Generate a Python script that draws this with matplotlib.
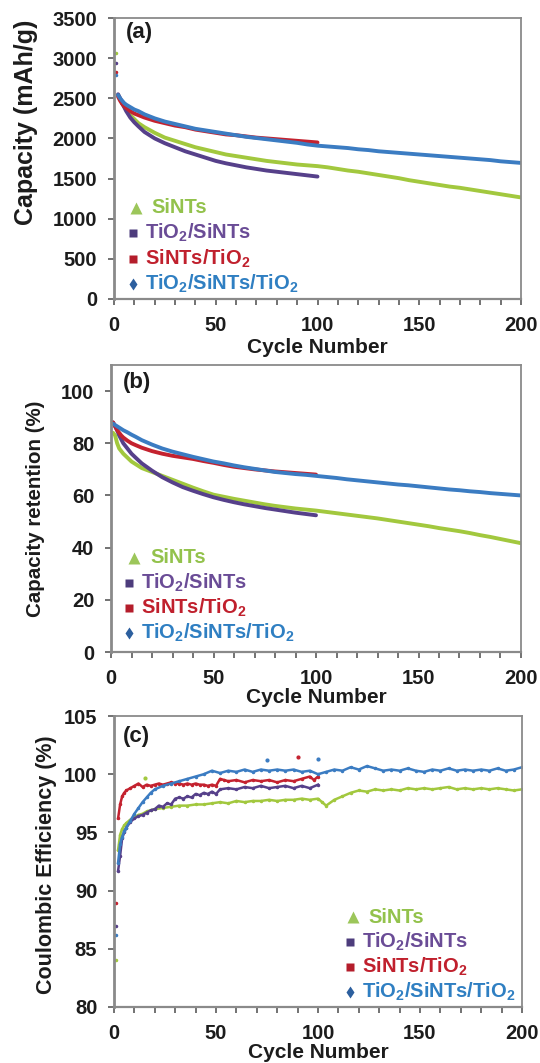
import matplotlib
matplotlib.use("Agg")
import matplotlib.pyplot as plt
from matplotlib.ticker import MultipleLocator

plt.rcParams["font.family"] = ["Liberation Sans", "DejaVu Sans"]
plt.rcParams["font.weight"] = "bold"
plt.rcParams["mathtext.fontset"] = "custom"
plt.rcParams["mathtext.rm"] = "Liberation Sans:bold"
plt.rcParams["mathtext.bf"] = "Liberation Sans:bold"
plt.rcParams["mathtext.default"] = "rm"

# ---------------- series names and colours ----------------
series_names = ["SiNTs", r"TiO$_2$/SiNTs", r"SiNTs/TiO$_2$", r"TiO$_2$/SiNTs/TiO$_2$"]
line_colors = ["#a2c83e", "#56408a", "#c4222f", "#3b7cc2"]
text_colors = ["#93c24c", "#6a4c96", "#c0202d", "#2f7fc2"]
key_markers = ["^", "s", "s", "d"]
key_marker_colors = ["#9cc65a", "#4d3c7c", "#b41d2b", "#2c5f9e"]

# ---------------- (a) discharge capacity, mAh/g ----------------
cap_first_cycle = [3060, 2940, 2830, 2790]
cap_cycles_100 = [2, 3, 4, 5, 6, 8, 10, 12, 15, 20, 25, 30, 35, 40, 45, 50,
                  55, 60, 65, 70, 75, 80, 85, 90, 95, 100]
cap_cycles_200 = cap_cycles_100 + [105, 110, 115, 120, 125, 130, 135, 140, 145, 150,
                                   155, 160, 165, 170, 175, 180, 185, 190, 195, 200]
cap_sints = [2540, 2490, 2440, 2400, 2360, 2290, 2240, 2190, 2140, 2070, 2010, 1970,
             1930, 1890, 1860, 1830, 1800, 1780, 1760, 1740, 1720, 1705, 1690, 1675,
             1665, 1655,
             1640, 1620, 1600, 1585, 1565, 1545, 1525, 1505, 1480, 1460, 1440, 1420,
             1400, 1385, 1365, 1345, 1325, 1305, 1285, 1265]
cap_tio2_sints = [2550, 2500, 2440, 2390, 2340, 2260, 2200, 2150, 2080, 2000, 1940,
                  1890, 1840, 1800, 1760, 1720, 1690, 1665, 1640, 1620, 1600, 1585,
                  1570, 1555, 1540, 1525]
cap_sints_tio2 = [2520, 2470, 2430, 2400, 2380, 2340, 2310, 2290, 2260, 2220, 2190,
                  2160, 2140, 2110, 2090, 2070, 2050, 2040, 2025, 2010, 2000, 1990,
                  1980, 1970, 1960, 1950]
cap_tio2_sints_tio2 = [2540, 2500, 2470, 2440, 2420, 2390, 2360, 2340, 2300, 2250, 2210,
                       2180, 2150, 2120, 2100, 2080, 2060, 2040, 2020, 2005, 1990, 1975,
                       1960, 1945, 1925, 1910,
                       1900, 1890, 1880, 1865, 1855, 1840, 1830, 1820, 1810, 1800, 1790,
                       1780, 1770, 1760, 1750, 1740, 1730, 1715, 1705, 1695]

# ---------------- (b) capacity retention, % ----------------
ret_cycles_100 = [1, 2, 3, 4, 5, 6, 8, 10, 12, 15, 20, 25, 30, 35, 40, 45, 50,
                  55, 60, 65, 70, 75, 80, 85, 90, 95, 100]
ret_cycles_200 = ret_cycles_100 + [105, 110, 115, 120, 125, 130, 135, 140, 145, 150,
                                   155, 160, 165, 170, 175, 180, 185, 190, 195, 200]
ret_sints = [84, 83, 80, 78, 77, 76, 74.5, 73, 72, 70.5, 69, 67.5, 66, 64.5, 63, 61.6,
             60.3, 59.5, 58.7, 58, 57.3, 56.6, 56, 55.5, 55, 54.6, 54.2,
             53.7, 53.2, 52.7, 52.2, 51.7, 51.2, 50.6, 50, 49.4, 48.8, 48.2, 47.5,
             46.9, 46.3, 45.6, 44.8, 44.1, 43.3, 42.5, 41.7]
ret_tio2_sints = [88, 86.5, 85, 83, 81.5, 80, 78, 76, 74.5, 72.3, 69.5, 67, 65, 63.2,
                  61.8, 60.5, 59.3, 58.3, 57.4, 56.6, 55.9, 55.2, 54.6, 54, 53.4, 52.9,
                  52.4]
ret_sints_tio2 = [88, 86.5, 85, 84, 83, 82.2, 81, 80, 79.3, 78.3, 77, 76, 75.2, 74.6,
                  74, 73.2, 72.5, 71.7, 71, 70.5, 70, 69.6, 69.2, 68.9, 68.6, 68.3, 68.0]
ret_tio2_sints_tio2 = [87.5, 87, 86.5, 86, 85.5, 85, 84.2, 83.3, 82.5, 81.2, 79.5, 78,
                       76.8, 75.8, 74.8, 73.9, 73, 72.3, 71.5, 70.8, 70.2, 69.6, 69,
                       68.6, 68.2, 67.9, 67.5,
                       67.1, 66.7, 66.2, 65.8, 65.4, 65, 64.6, 64.2, 63.9, 63.5, 63.1,
                       62.7, 62.3, 62, 61.6, 61.3, 60.9, 60.6, 60.3, 60]

# ---------------- (c) coulombic efficiency, % ----------------
ce_cycles_sints = [1, 2, 3, 4, 5, 6, 8, 10, 12, 14, 16, 18, 20, 24, 28, 32, 36, 40,
                   44, 48, 52, 56, 60, 64, 68, 72, 76, 80, 84, 88, 92, 96, 100, 102,
                   104, 108, 112, 116, 120, 124, 128, 132, 136, 140, 144, 148, 152,
                   156, 160, 164, 168, 172, 176, 180, 184, 188, 192, 196, 200]
ce_sints = [84.0, 93.5, 94.8, 95.3, 95.6, 95.8, 96.1, 96.3, 96.5, 96.6, 96.8, 96.9,
            97.0, 97.1, 97.2, 97.3, 97.3, 97.4, 97.4, 97.5, 97.6, 97.5, 97.7, 97.6,
            97.7, 97.7, 97.8, 97.7, 97.8, 97.8, 97.9, 97.8, 97.9, 97.6, 97.3, 97.8,
            98.1, 98.4, 98.6, 98.5, 98.7, 98.6, 98.7, 98.6, 98.8, 98.7, 98.8, 98.7,
            98.8, 98.9, 98.7, 98.8, 98.7, 98.8, 98.7, 98.8, 98.7, 98.6, 98.7]
ce_cycles_tio2_sints = [1, 2, 3, 4, 5, 6, 8, 10, 12, 14, 16, 18, 20, 22, 24, 26, 28,
                        30, 32, 34, 36, 38, 40, 42, 44, 46, 48, 50, 52, 56, 60, 64,
                        68, 72, 76, 80, 84, 88, 92, 96, 100]
ce_tio2_sints = [87.0, 91.7, 93.0, 94.5, 95.0, 95.4, 95.9, 96.2, 96.4, 96.5, 96.7,
                 96.9, 97.0, 97.3, 97.2, 97.5, 97.4, 97.9, 98.0, 97.9, 98.1, 98.0,
                 98.3, 98.2, 98.4, 98.3, 98.5, 98.3, 98.7, 98.8, 98.7, 98.9, 98.8,
                 99.0, 98.8, 98.9, 99.0, 98.8, 99.0, 98.8, 99.1]
ce_cycles_sints_tio2 = [1, 2, 3, 4, 5, 6, 8, 10, 12, 14, 16, 18, 20, 22, 24, 26, 28,
                        30, 32, 34, 36, 38, 40, 42, 44, 46, 48, 50, 52, 54, 56, 60,
                        64, 68, 72, 76, 80, 84, 88, 92, 96, 98, 100]
ce_sints_tio2 = [88.9, 96.2, 97.4, 98.1, 98.4, 98.6, 98.8, 99.0, 99.2, 98.9, 99.1,
                 99.0, 99.1, 99.2, 99.1, 99.2, 99.3, 99.2, 99.2, 99.1, 99.2, 99.1,
                 99.2, 99.1, 99.1, 99.0, 99.1, 99.0, 99.6, 99.5, 99.4, 99.5, 99.3,
                 99.5, 99.4, 99.5, 99.3, 99.5, 99.4, 99.6, 99.8, 99.5, 99.8]
ce_cycles_tio2_sints_tio2 = [1, 2, 3, 4, 5, 6, 8, 10, 12, 14, 16, 18, 20, 24, 28, 32,
                             36, 40, 44, 48, 52, 56, 60, 64, 68, 72, 76, 80, 84, 88,
                             92, 96, 100, 104, 108, 112, 116, 120, 124, 128, 132, 136,
                             140, 144, 148, 152, 156, 160, 164, 168, 172, 176, 180,
                             184, 188, 192, 196, 200]
ce_tio2_sints_tio2 = [86.2, 92.4, 94.0, 94.6, 95.1, 95.4, 96.0, 96.6, 97.1, 97.6,
                      98.0, 98.4, 98.7, 99.0, 99.2, 99.4, 99.6, 99.8, 100.0, 100.3,
                      100.1, 100.3, 100.2, 100.4, 100.2, 100.4, 100.3, 100.4, 100.3,
                      100.4, 100.2, 100.3, 100.0, 100.2, 100.4, 100.3, 100.6, 100.4,
                      100.7, 100.5, 100.3, 100.4, 100.3, 100.5, 100.3, 100.2, 100.4,
                      100.3, 100.5, 100.3, 100.4, 100.3, 100.4, 100.3, 100.5, 100.3,
                      100.4, 100.6]
# isolated high points
ce_stray_cycles = [15, 75, 90, 100]
ce_stray_values = [99.7, 101.2, 101.45, 101.3]
ce_stray_series = [0, 3, 2, 3]

# ---------------- figure ----------------
fig = plt.figure(figsize=(5.4, 10.63), dpi=100)
W, H = 540.0, 1063.0


def axes_px(left, right, top, bottom):
    return fig.add_axes([left / W, 1 - bottom / H, (right - left) / W, (bottom - top) / H])


ax_a = axes_px(114, 521, 18, 299)
ax_b = axes_px(111, 521, 365, 652)
ax_c = axes_px(114, 522, 716, 1007)

TICK_FS = 14.5
SPINE = "#8a8a8a"


def style_axes(ax, ylim, ystep):
    ax.set_xlim(0, 200)
    ax.set_ylim(*ylim)
    ax.xaxis.set_major_locator(MultipleLocator(50))
    ax.xaxis.set_minor_locator(MultipleLocator(10))
    ax.yaxis.set_major_locator(MultipleLocator(ystep))
    for s in ax.spines.values():
        s.set_color(SPINE)
        s.set_linewidth(1.3)
    ax.spines["left"].set_linewidth(2.0)
    ax.spines["bottom"].set_linewidth(1.6)
    ax.tick_params(which="both", direction="out", color="#5a5a5a", width=1.2,
                   length=4, labelsize=TICK_FS, labelcolor="#1c1c1c")
    ax.tick_params(axis="x", which="both", pad=8)
    ax.tick_params(axis="y", pad=8)
    ax.tick_params(top=False, right=False)


def key(ax, mx, tx, ys, sints_shift):
    for i, y in enumerate(ys):
        size = {"^": 8, "s": 6, "d": 6}[key_markers[i]]
        ax.plot([mx + (sints_shift[0] if i == 0 else 0)], [y], key_markers[i],
                color=key_marker_colors[i], ms=size, mec="none",
                transform=ax.transAxes, clip_on=False)
        ax.text(tx + (sints_shift[1] if i == 0 else 0), y, series_names[i],
                color=text_colors[i], fontsize=14.5, fontweight="bold",
                transform=ax.transAxes, va="center", ha="left")


# ---- (a)
a_x = [cap_cycles_200, cap_cycles_100, cap_cycles_100, cap_cycles_200]
a_y = [cap_sints, cap_tio2_sints, cap_sints_tio2, cap_tio2_sints_tio2]
for i in range(4):
    ax_a.plot(a_x[i], a_y[i], color=line_colors[i], lw=2.8, solid_capstyle="round")
    ax_a.plot([1], [cap_first_cycle[i]], ".", color=line_colors[i], ms=3)
style_axes(ax_a, (0, 3500), 500)
ax_a.set_ylabel("Capacity (mAh/g)", fontsize=18, fontweight="bold", color="#1c1c1c")
ax_a.yaxis.set_label_coords(-0.216, 0.63)
ax_a.yaxis.label.set_va("center")
ax_a.text(0.03, 0.947, "(a)", transform=ax_a.transAxes, fontsize=16,
          fontweight="bold", va="center", color="#1c1c1c")
key(ax_a, 0.047, 0.076, [0.324, 0.235, 0.142, 0.053], (0.007, 0.017))

# ---- (b)
b_x = [ret_cycles_200, ret_cycles_100, ret_cycles_100, ret_cycles_200]
b_y = [ret_sints, ret_tio2_sints, ret_sints_tio2, ret_tio2_sints_tio2]
for i in range(4):
    ax_b.plot(b_x[i], b_y[i], color=line_colors[i], lw=2.8, solid_capstyle="round")
style_axes(ax_b, (0, 110), 20)
ax_b.set_ylabel("Capacity retention (%)", fontsize=14.8, fontweight="bold",
                color="#1c1c1c")
ax_b.yaxis.set_label_coords(-0.183, 0.50)
ax_b.yaxis.label.set_va("center")
ax_b.text(0.028, 0.94, "(b)", transform=ax_b.transAxes, fontsize=16,
          fontweight="bold", va="center", color="#1c1c1c")
key(ax_b, 0.044, 0.073, [0.328, 0.240, 0.153, 0.066], (0.013, 0.022))

# ---- (c)
c_x = [ce_cycles_sints, ce_cycles_tio2_sints, ce_cycles_sints_tio2, ce_cycles_tio2_sints_tio2]
c_y = [ce_sints, ce_tio2_sints, ce_sints_tio2, ce_tio2_sints_tio2]
for i in range(4):
    ax_c.plot(c_x[i][1:], c_y[i][1:], color=line_colors[i], lw=1.8, marker=".", ms=3)
    ax_c.plot(c_x[i][:1], c_y[i][:1], ".", color=line_colors[i], ms=3)
for cx, cy, si in zip(ce_stray_cycles, ce_stray_values, ce_stray_series):
    ax_c.plot([cx], [cy], ".", color=line_colors[si], ms=4)
style_axes(ax_c, (80, 105), 5)
ax_c.set_ylabel("Coulombic Efficiency (%)", fontsize=15.5, fontweight="bold",
                color="#1c1c1c")
ax_c.yaxis.set_label_coords(-0.165, 0.49)
ax_c.yaxis.label.set_va("center")
ax_c.text(0.021, 0.928, "(c)", transform=ax_c.transAxes, fontsize=16,
          fontweight="bold", va="center", color="#1c1c1c")
key(ax_c, 0.578, 0.608, [0.309, 0.223, 0.137, 0.052], (0.008, 0.015))

for ax, yl in [(ax_a, -0.171), (ax_b, -0.160), (ax_c, -0.155)]:
    ax.set_xlabel("Cycle Number", fontsize=15, fontweight="bold", color="#1c1c1c")
    ax.xaxis.set_label_coords(0.5, yl)
    ax.xaxis.label.set_va("center")

fig.savefig("out.png", dpi=100)
